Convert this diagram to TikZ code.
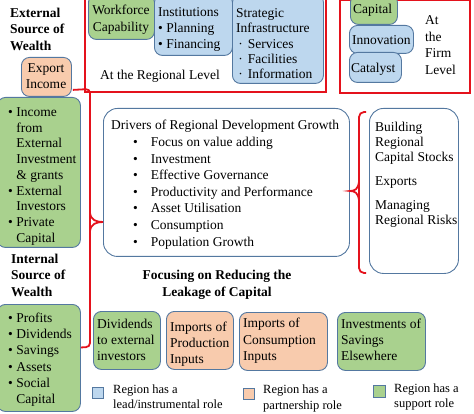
\documentclass[tikz,border=0pt]{standalone}
\usepackage{fontspec}
\setmainfont{Liberation Serif}
\usetikzlibrary{calc}
\definecolor{grn}{RGB}{169,209,142}
\definecolor{blu}{RGB}{189,215,238}
\definecolor{org}{RGB}{248,203,173}
\definecolor{edgec}{RGB}{84,120,160}
\definecolor{redc}{RGB}{228,18,28}
\newcommand{\ltab}[1]{\begin{tabular}[t]{@{}l@{}}#1\end{tabular}}
\newcommand{\ctab}[1]{\begin{tabular}[t]{@{}c@{}}#1\end{tabular}}
\newcommand{\btab}[2]{\begin{tabular}[t]{@{}l@{\hspace{#1}}l@{}}#2\end{tabular}}
\tikzset{
  box/.style={draw=edgec, line width=0.9pt, rounded corners=8pt, rectangle, inner sep=0pt, anchor=north west},
  sz/.style 2 args={minimum width=#1pt, minimum height=#2pt},
  gbox/.style={box, fill=grn},
  bbox/.style={box, fill=blu},
  obox/.style={box, fill=org},
  wbox/.style={box, fill=white, rounded corners=14pt},
  sq/.style={draw=edgec, line width=0.8pt, rectangle, inner sep=0pt, anchor=north west},
  redbox/.style={draw=redc, line width=1.6pt, rectangle, inner sep=0pt, anchor=north west},
  redline/.style={draw=redc, line width=1.8pt},
  txt/.style={inner sep=0pt, anchor=base west, font=\fontsize{13.5}{16}\selectfont},
  ctxt/.style={txt, anchor=base},
  lg/.style={inner sep=0pt, anchor=base west, font=\fontsize{12.5}{15.5}\selectfont},
}
\begin{document}
\begin{tikzpicture}[x=1pt,y=-1pt]
\useasboundingbox (0,0) rectangle (474,414);
% regional level
\node[redbox, sz={241}{96}] (reg) at (84,-5) {};
\node[gbox, sz={66}{45}] (wf) at (88,-6) {};
\node[bbox, sz={78}{61}] (ins) at (154,-6) {};
\node[bbox, sz={91}{89}] (str) at (232,-6) {};
\node[ctxt, font=\fontsize{13.5}{17}\selectfont] (wft) at (121,14.5) {\ctab{Workforce\\Capability}};
\node[txt] (inst) at (158,16.5) {\ltab{Institutions\\• Planning\\• Financing}};
\node[txt, font=\fontsize{13.5}{15.3}\selectfont] (strt) at (236,17.5) {\ltab{Strategic\\Infrastructure\\\,·\hspace{5pt}Services\\\,·\hspace{5pt}Facilities\\\,·\hspace{5pt}Information}};
\node[txt] (regt) at (100,79.5) {At the Regional Level};
% firm level
\node[redbox, sz={130}{92.5}] (firm) at (339,-0.5) {};
\node[gbox, sz={47}{30}] (cap) at (350,-6) {};
\node[bbox, sz={64}{28}] (inn) at (349,25) {};
\node[bbox, sz={52}{30}] (cat) at (349,52) {};
\node[txt] (capt) at (353,13.5) {Capital};
\node[txt] (innt) at (352,44.5) {Innovation};
\node[txt] (catt) at (351,72.5) {Catalyst};
\node[txt, font=\fontsize{13.5}{16.7}\selectfont] (firmt) at (425,24.5) {\ltab{At\\the\\Firm\\Level}};
% external sources
\node[txt, font=\bfseries\fontsize{13.5}{16.5}\selectfont] (ext) at (10,17.5) {\ltab{External\\Source of\\Wealth}};
\node[obox, sz={50}{39}] (ex) at (21,57) {};
\node[ctxt] (ext2) at (46,72.5) {\ctab{Export\\Income}};
\node[gbox, sz={83}{150}] (g1) at (-3,97) {};
\node[txt, font=\fontsize{13.5}{15.75}\selectfont] (g1t) at (8,116.5) {\btab{3.5pt}{•&Income\\&from\\&External\\&Investment\\&\& grants\\•&External\\&Investors\\•&Private\\&Capital}};
% internal sources
\node[txt, font=\bfseries\fontsize{13.5}{16.5}\selectfont] (int) at (11,263.5) {\ltab{Internal\\Source of\\Wealth}};
\node[gbox, sz={83}{107}] (g2) at (-3,304) {};
\node[txt, font=\fontsize{13.5}{16.2}\selectfont] (g2t) at (8,322.5) {\btab{3.5pt}{•&Profits\\•&Dividends\\•&Savings\\•&Assets\\•&Social\\&Capital}};
% drivers
\node[wbox, sz={246}{148}] (dr) at (103,108) {};
\node[txt] (drt) at (111,129.5) {Drivers of Regional Development Growth};
\node[txt, font=\fontsize{13.5}{16.6}\selectfont] (drl) at (133,146.5) {\btab{13pt}{•&Focus on value adding\\•&Investment\\•&Effective Governance\\•&Productivity and Performance\\•&Asset Utilisation\\•&Consumption\\•&Population Growth}};
% right box
\node[wbox, sz={89}{165}] (rb) at (369,108) {};
\node[txt, font=\fontsize{13.5}{15}\selectfont] (rbt1) at (375,131.5) {\ltab{Building\\Regional\\Capital Stocks}};
\node[txt] (rbt2) at (375,185.5) {Exports};
\node[txt, font=\fontsize{13.5}{15}\selectfont] (rbt3) at (375,209.5) {\ltab{Managing\\Regional Risks}};
% leakage
\node[ctxt, font=\bfseries\fontsize{13.5}{17}\selectfont] (leak) at (217,279.5) {\ctab{Focusing on Reducing the\\Leakage of Capital}};
\node[gbox, sz={67}{58}] (d1) at (93,311) {};
\node[obox, sz={67}{58}] (d2) at (166,311) {};
\node[obox, sz={88}{58}] (d3) at (239,312) {};
\node[gbox, sz={88}{58}] (d4) at (337,312) {};
\node[txt] (d1t) at (97,328.5) {\ltab{Dividends\\to external\\investors}};
\node[txt] (d2t) at (170,331.5) {\ltab{Imports of\\Production\\Inputs}};
\node[txt, font=\fontsize{13.5}{16.7}\selectfont] (d3t) at (243,327.5) {\ltab{Imports of\\Consumption\\Inputs}};
\node[txt] (d4t) at (341,328.5) {\ltab{Investments of\\Savings\\Elsewhere}};
% legend
\node[sq, fill=blu, sz={11}{11}] (l1) at (92,387) {};
\node[sq, fill=org, sz={11}{11}] (l2) at (243,388) {};
\node[sq, fill=grn, sz={12}{12}] (l3) at (373,385) {};
\node[lg] (l1t) at (113,393) {\ltab{Region has a\\lead/instrumental role}};
\node[lg] (l2t) at (263,393.5) {\ltab{Region has a\\partnership role}};
\node[lg, font=\fontsize{12.5}{15}\selectfont] (l3t) at (394,392) {\ltab{Region has a\\support role}};
% red connectors
\coordinate (lj) at (90,89);
\coordinate (ltip) at (103,222);
\draw[redline, rounded corners=4pt] ($(ex.south east)+(1,-7)$) -- (lj) -- (90,347) -- ($(g2.east)+(0,-10.5)$);
\draw[redline] (90,213) .. controls (91,220) and (96,222) .. (ltip) .. controls (96,222) and (91,224) .. (90,231);
\coordinate (rtip) at (350,191);
\draw[redline, rounded corners=5pt] (366,112) -- (359,112) -- (359,273) -- (366,273);
\draw[redline] (359,182) .. controls (358,189) and (355,191) .. (rtip) .. controls (355,191) and (358,193) .. (359,200);
\end{tikzpicture}
\end{document}
